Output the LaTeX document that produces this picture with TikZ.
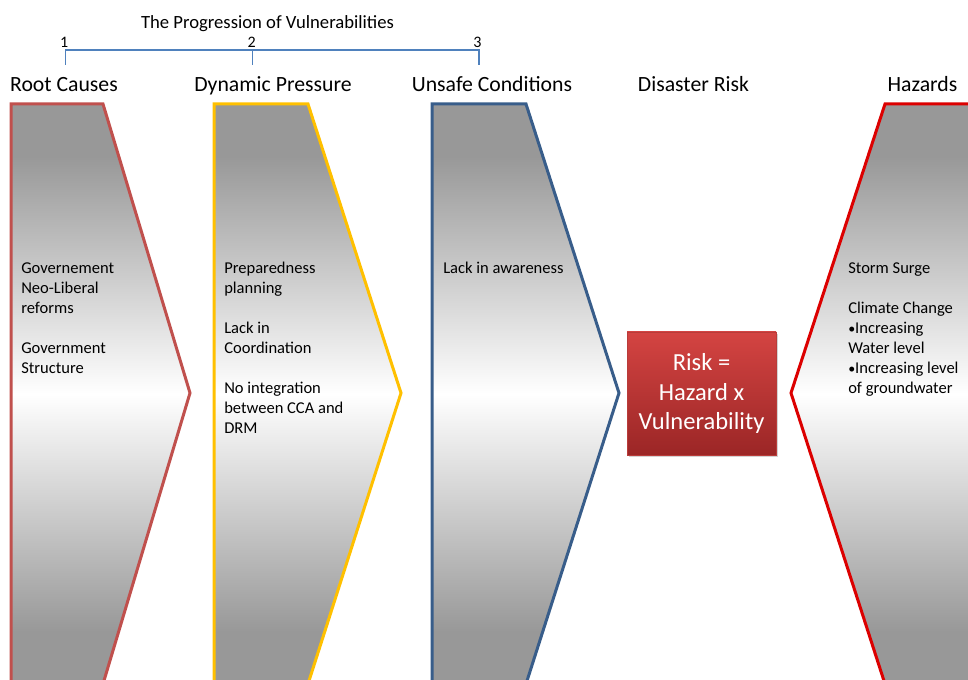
\documentclass[tikz,border=0pt]{standalone}
\usepackage{fontspec}
\setmainfont{Carlito}
\usetikzlibrary{shadows}
\definecolor{cRoot}{RGB}{192,80,77}
\definecolor{cDyn}{RGB}{255,192,0}
\definecolor{cUns}{RGB}{56,93,138}
\definecolor{cHaz}{RGB}{220,0,0}
\definecolor{cGray}{RGB}{152,152,152}
\definecolor{cLine}{RGB}{79,129,189}
\definecolor{cRiskTop}{RGB}{212,68,66}
\definecolor{cRiskBot}{RGB}{155,38,38}
\definecolor{cRiskEdge}{RGB}{185,60,58}
\pgfdeclareverticalshading{chevshade}{100bp}{color(0bp)=(cGray); color(29.5bp)=(cGray); color(50bp)=(white); color(70.5bp)=(cGray); color(100bp)=(cGray)}
\newcommand{\smbul}{{\fontsize{10.5}{15}\selectfont •}}
\begin{document}
\begin{tikzpicture}[x=0.75pt,y=-0.75pt,
  chev/.style={line width=2.25pt, line join=miter, shading=chevshade},
  head/.style={font=\fontsize{16.3}{19}\selectfont, anchor=base, inner sep=0pt},
  body/.style={font=\fontsize{12.4}{15}\selectfont, anchor=north west, align=left, inner sep=0pt},
  num/.style={font=\fontsize{12}{14}\selectfont, anchor=base, inner sep=0pt},
  brk/.style={draw=cLine, line width=0.8pt}]
\useasboundingbox (0,0) rectangle (968,680);
\clip (0,0) rectangle (968,680);

% chevrons
\draw[chev, draw=cRoot] (11,104) -- (103,104) -- (190,393) -- (103,684) -- (11,684) -- cycle;
\draw[chev, draw=cDyn] (214,104) -- (308,104) -- (401,393) -- (308,684) -- (214,684) -- cycle;
\draw[chev, draw=cUns] (432,104) -- (526,104) -- (619,393) -- (526,684) -- (432,684) -- cycle;
\draw[chev, draw=cHaz] (990,104) -- (885,104) -- (791,393) -- (885,684) -- (990,684) -- cycle;

% bracket
\coordinate (b1) at (65.5,65);
\coordinate (b1t) at (65.5,50);
\coordinate (b2) at (252.5,65);
\coordinate (b2t) at (252.5,50);
\coordinate (b3) at (479,65);
\coordinate (b3t) at (479,50);
\draw[brk] (b1) -- (b1t) -- (b3t) -- (b3);
\draw[brk] (b2t) -- (b2);

\node[font=\fontsize{14}{17}\selectfont, anchor=base, inner sep=0pt] (title) at (267.5,29) {The Progression of Vulnerabilities};
\node[num] (n1) at (64.3,47.7) {1};
\node[num] (n2) at (251.7,47.7) {2};
\node[num] (n3) at (477.5,47.7) {3};

% headings
\node[head] (hRoot) at (64,92) {Root Causes};
\node[head] (hDyn) at (273,92) {Dynamic Pressure};
\node[head] (hUns) at (492,92) {Unsafe Conditions};
\node[head] (hDis) at (693.5,92) {Disaster Risk};
\node[head] (hHaz) at (922.5,92) {Hazards};

% body texts
\node[body] (tRoot) at (21,259) {\strut Governement\\Neo-Liberal\\reforms\\[15pt]Government\\Structure};
\node[body] (tDyn) at (224,259) {\strut Preparedness\\planning\\[15pt]Lack in\\Coordination\\[15pt]No integration\\between CCA and\\DRM};
\node[body] (tUns) at (443,259) {\strut Lack in awareness};
\node[body] (tHaz) at (848,259) {\strut Storm Surge\\[15pt]Climate Change\\\smbul Increasing\\Water level\\\smbul Increasing level\\of groundwater};

% risk box
\node[draw=cRiskEdge, line width=0.5pt, top color=cRiskTop, bottom color=cRiskBot,
      minimum width=111.75pt, minimum height=92.25pt, inner sep=0pt,
      drop shadow={opacity=0.35, shadow xshift=1.5pt, shadow yshift=-1.5pt},
      text=white, font=\fontsize{18.4}{22}\selectfont, align=center] (risk) at (701.5,393.5)
      {Risk =\\Hazard x\\Vulnerability};
\end{tikzpicture}
\end{document}
